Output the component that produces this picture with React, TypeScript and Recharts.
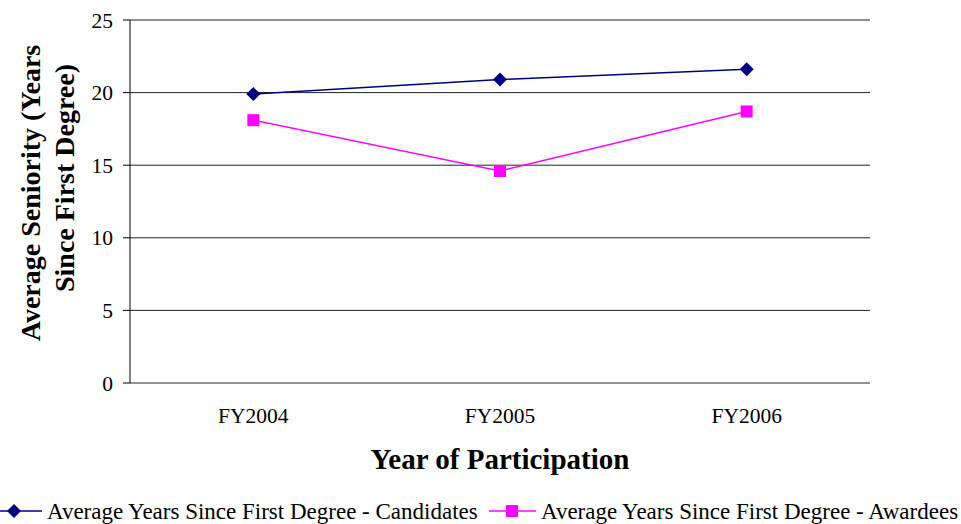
import React from 'react';
import { LineChart, Line, XAxis, YAxis, CartesianGrid, Legend } from 'recharts';

const categories = ['FY2004', 'FY2005', 'FY2006'];
const candidates = [19.9, 20.9, 21.6];
const awardees = [18.1, 14.6, 18.7];
const yTicks = [0, 5, 10, 15, 20, 25];
const seriesNames = [
  'Average Years Since First Degree - Candidates',
  'Average Years Since First Degree - Awardees',
];
const xTitle = 'Year of Participation';
const yTitleLines = ['Average Seniority (Years', 'Since First Degree)'];

const data = categories.map((c, i) => ({
  pos: i + 0.5,
  name: c,
  candidates: candidates[i],
  awardees: awardees[i],
}));

const FONT = 'Liberation Serif';
const NAVY = '#000080';
const MAGENTA = '#FF00FF';

const Diamond = (props: any) => {
  const { cx, cy } = props;
  if (cx == null || cy == null) return null;
  return <polygon points={`${cx},${cy - 7} ${cx + 7},${cy} ${cx},${cy + 7} ${cx - 7},${cy}`} fill={NAVY} />;
};
const Square = (props: any) => {
  const { cx, cy } = props;
  if (cx == null || cy == null) return null;
  return <rect x={cx - 6} y={cy - 6} width={12} height={12} fill={MAGENTA} />;
};

const LegendContent = () => (
  <svg width={961} height={30} style={{ display: 'block' }}>
    <g>
      <line x1={-14} y1={17} x2={42} y2={17} stroke={NAVY} strokeWidth={1.5} />
      <polygon points="14,10 21,17 14,24 7,17" fill={NAVY} />
      <text x={47} y={25} fontFamily={FONT} fontSize={23} fill="#000">{seriesNames[0]}</text>
    </g>
    <g>
      <line x1={489} y1={17} x2={536} y2={17} stroke={MAGENTA} strokeWidth={1.5} />
      <rect x={506} y={11} width={12} height={12} fill={MAGENTA} />
      <text x={541} y={25} fontFamily={FONT} fontSize={23} fill="#000">{seriesNames[1]}</text>
    </g>
  </svg>
);

const XTitle = () => (
  <text x={500} y={469} textAnchor="middle" fontFamily={FONT} fontWeight="bold" fontSize={29} fill="#000">
    {xTitle}
  </text>
);

const YTitle = () => (
  <g fill="#000">
    <text x={30} y={193} transform="rotate(-90 30 193)" textAnchor="middle" dominantBaseline="central" fontFamily={FONT} fontWeight="bold" fontSize={28}>
      {yTitleLines[0]}
    </text>
    <text x={64} y={178} transform="rotate(-90 64 178)" textAnchor="middle" dominantBaseline="central" fontFamily={FONT} fontWeight="bold" fontSize={28}>
      {yTitleLines[1]}
    </text>
  </g>
);

export default function App() {
  return (
    <div style={{ position: 'absolute', left: 0, top: 0, width: 961, height: 524, background: '#fff' }}>
      <LineChart
        width={961}
        height={524}
        data={data}
        margin={{ top: 20, right: 91, left: 70, bottom: 53 }}
      >
        <CartesianGrid xAxisId="marks" vertical={false} stroke="#222" strokeWidth={1} />
        <XAxis
          xAxisId="marks"
          dataKey="pos"
          type="number"
          domain={[0, 3]}
          ticks={[0, 1, 2, 3]}
          tickFormatter={() => ''}
          height={0}
          tickSize={7}
          axisLine={{ stroke: '#000', strokeWidth: 1 }}
          tickLine={{ stroke: '#000', strokeWidth: 1 }}
        />
        <XAxis
          xAxisId="labels"
          dataKey="pos"
          type="number"
          domain={[0, 3]}
          ticks={[0.5, 1.5, 2.5]}
          interval={0}
          tickFormatter={(v: number) => categories[Math.floor(v)]}
          height={58}
          axisLine={false}
          tickLine={false}
          tickSize={0}
          tickMargin={25}
          tick={{ fontFamily: FONT, fontSize: 21.5, fill: '#000' }}
          label={{ content: () => <XTitle /> }}
        />
        <YAxis
          domain={[0, 25]}
          ticks={yTicks}
          interval={0}
          width={60}
          tickSize={7}
          tickMargin={10}
          axisLine={{ stroke: '#000', strokeWidth: 1 }}
          tickLine={{ stroke: '#000', strokeWidth: 1 }}
          tick={{ fontFamily: FONT, fontSize: 21.5, fill: '#000' }}
          label={{ content: () => <YTitle /> }}
        />
        <Legend
          verticalAlign="bottom"
          content={() => <LegendContent />}
          wrapperStyle={{ height: 30, left: 0, bottom: 0, width: 961 }}
        />
        <Line
          xAxisId="marks"
          type="linear"
          dataKey="candidates"
          name={seriesNames[0]}
          stroke={NAVY}
          strokeWidth={1.5}
          dot={<Diamond />}
          activeDot={false}
          isAnimationActive={false}
        />
        <Line
          xAxisId="marks"
          type="linear"
          dataKey="awardees"
          name={seriesNames[1]}
          stroke={MAGENTA}
          strokeWidth={1.5}
          dot={<Square />}
          activeDot={false}
          isAnimationActive={false}
        />
      </LineChart>
    </div>
  );
}
